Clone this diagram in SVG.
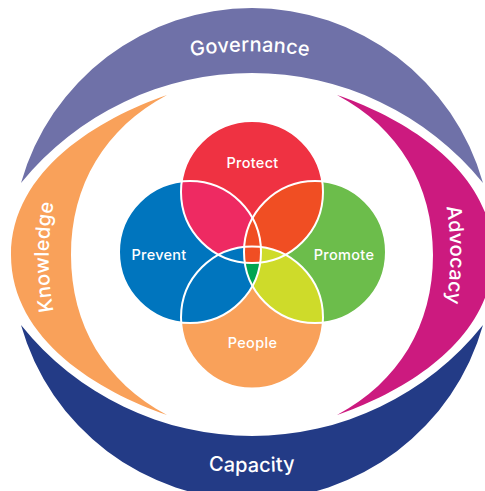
<svg xmlns="http://www.w3.org/2000/svg" width="485" height="491" viewBox="0 0 485 491">
<style>
text{font-family:"Inter","Open Sans","Liberation Sans",sans-serif;fill:#fff;font-weight:500;text-anchor:middle}
.c{font-size:14.5px;letter-spacing:.3px}.o{font-size:20px;letter-spacing:.2px}
.l{fill:none;stroke:#fff;stroke-width:2}
</style>
<defs>
<clipPath id="cPro"><circle cx="252" cy="192" r="71"/></clipPath>
<clipPath id="cPre"><circle cx="190" cy="252" r="71"/></clipPath>
<clipPath id="cPrm"><circle cx="315" cy="252" r="71"/></clipPath>
<clipPath id="cPeo"><circle cx="252" cy="317.5" r="71"/></clipPath>
<path id="tg" d="M150 66A348 348 0 0 1 350 66"/>
<path id="tc" d="M150 462Q252 482 354 462"/>
<path id="tk" d="M62.5 347A300 300 0 0 1 62.5 167"/>
<path id="ta" d="M436.5 165A300 300 0 0 1 436.5 345"/>
</defs>
<rect width="485" height="491" fill="#fff"/>
<g id="governance"><path d="M21 183A240 240 0 0 1 483 183A297.5 297.5 0 0 0 21 183Z" fill="#6F71A8"/><text class="o"><textPath href="#tg" startOffset="50%">Governance</textPath></text></g>
<g id="capacity"><path d="M21 325A240 240 0 0 0 483 325A296 296 0 0 1 21 325Z" fill="#233B86"/><text class="o"><textPath href="#tc" startOffset="50%">Capacity</textPath></text></g>
<g id="knowledge"><path d="M167 95C100 118 11 170 11 255C11 340 100 392 167 415C105 382 71 325 71 255C71 185 105 128 167 95Z" fill="#F9A15A"/><text class="o"><textPath href="#tk" startOffset="50%">Knowledge</textPath></text></g>
<g id="advocacy"><path d="M337 95C404 118 493 170 493 255C493 340 404 392 337 415C399 382 433 325 433 255C433 185 399 128 337 95Z" fill="#CC1A7F"/><text class="o"><textPath href="#ta" startOffset="50%">Advocacy</textPath></text></g>
<g id="protect"><circle cx="252" cy="192" r="71" fill="#EF3242"/></g>
<g id="prevent"><circle cx="190" cy="252" r="71" fill="#0075BE"/></g>
<g id="promote"><circle cx="315" cy="252" r="71" fill="#6CBD4B"/></g>
<g id="people"><circle cx="252" cy="317.5" r="71" fill="#F9A15A"/></g>
<g id="overlaps">
<g clip-path="url(#cPro)"><circle cx="190" cy="252" r="71" fill="#EE2A62"/><circle cx="315" cy="252" r="71" fill="#F04E23"/><circle cx="252" cy="317.5" r="71" fill="#F04E23"/></g>
<g clip-path="url(#cPeo)"><circle cx="190" cy="252" r="71" fill="#0075BE"/><circle cx="315" cy="252" r="71" fill="#CEDB2A"/></g>
<g clip-path="url(#cPre)"><g clip-path="url(#cPrm)"><rect x="200" y="200" width="80" height="120" fill="#F04E23"/><g clip-path="url(#cPeo)"><rect x="200" y="263" width="80" height="60" fill="#00A551"/></g></g></g>
</g>
<g id="connectors"><circle class="l" cx="252" cy="192" r="71"/><circle class="l" cx="190" cy="252" r="71"/><circle class="l" cx="315" cy="252" r="71"/><circle class="l" cx="252" cy="317.5" r="71"/></g>
<g id="labels"><text class="c" x="252.5" y="167.5">Protect</text><text class="c" x="159" y="260">Prevent</text><text class="c" x="344" y="260">Promote</text><text class="c" x="252.5" y="348">People</text></g>
</svg>
